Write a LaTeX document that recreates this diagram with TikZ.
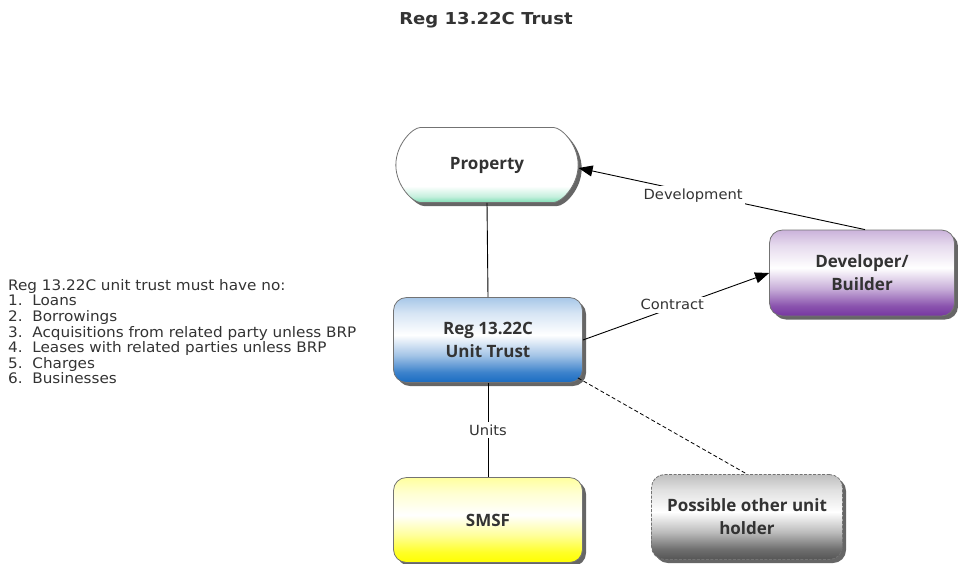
\documentclass[tikz,border=0pt]{standalone}
\usepackage{fontspec}
\setmainfont[FakeStretch=1.05]{DejaVu Sans}
\newfontfamily\boxfont{Open Sans}
\newfontfamily\titlefont[FakeStretch=1.1]{DejaVu Sans}
\usetikzlibrary{shadows,shapes.misc,arrows.meta}
\definecolor{txt}{HTML}{333333}
\definecolor{trustblue}{HTML}{1A6CC2}
\definecolor{devpurple}{HTML}{7636A0}
\definecolor{smsfyellow}{HTML}{FFFF00}
\definecolor{othergrey}{HTML}{555555}
\definecolor{propgreen}{HTML}{7EDDB4}
% glossy vertical fills: strong colour at the bottom edge, white core, pale top
\newcommand\glossshade[2]{%
  \pgfdeclareverticalshading{#1}{100bp}{color(0bp)=(#2); color(25bp)=(#2);
    color(31bp)=(#2!85); color(41bp)=(#2!40); color(53bp)=(white);
    color(66bp)=(#2!18); color(75bp)=(#2!38); color(100bp)=(#2!38)}}
\glossshade{trustshade}{trustblue}
\glossshade{devshade}{devpurple}
\glossshade{smsfshade}{smsfyellow}
\glossshade{othershade}{othergrey}
\pgfdeclareverticalshading{propshade}{100bp}{color(0bp)=(propgreen);
  color(25bp)=(propgreen); color(29bp)=(propgreen!45); color(36bp)=(white);
  color(100bp)=(white)}
\tikzset{
  every node/.style={text=txt},
  boxbase/.style={rounded corners=13pt, minimum width=189pt, minimum height=85pt,
    draw=black!55, line width=0.8pt, align=center,
    font=\boxfont\bfseries\fontsize{17}{23}\selectfont,
    drop shadow={shadow xshift=3.5pt, shadow yshift=-3.5pt, fill=black!75, opacity=0.8}},
  lbl/.style={fill=white, inner sep=2.5pt, font=\fontsize{14}{16}\selectfont},
  conn/.style={line width=0.9pt, black},
  tip/.style={-{Triangle[length=14pt,width=11pt]}},
}
\begin{document}
\begin{tikzpicture}[x=1pt,y=-1pt]
\useasboundingbox (0,0) rectangle (958,563);
% title
\node[font=\titlefont\bfseries\fontsize{16.4}{19}\selectfont] (title) at (486,20) {Reg 13.22C Trust};
% rules for the unit trust
\node[anchor=north west, align=left, font=\fontsize{14.5}{15.6}\selectfont, inner sep=0pt] (rules) at (8,279)
 {Reg 13.22C unit trust must have no:\\
  1.\ \ Loans\\
  2.\ \ Borrowings\\
  3.\ \ Acquisitions from related party unless BRP\\
  4.\ \ Leases with related parties unless BRP\\
  5.\ \ Charges\\
  6.\ \ Businesses};
% boxes
\node[boxbase, rounded rectangle, minimum height=75pt, shading=propshade] (prop) at (487,165) {Property};
\node[boxbase, shading=trustshade] (trust) at (488,340) {Reg 13.22C\\Unit Trust};
\node[boxbase, minimum width=185pt, minimum height=86pt, shading=devshade] (dev) at (862,273) {Developer/\\Builder};
\node[boxbase, shading=smsfshade] (smsf) at (488,520) {SMSF};
\node[boxbase, dash pattern=on 3pt off 1.5pt, minimum width=191pt, shading=othershade] (other) at (747,517) {Possible other unit\\holder};
% connectors
\draw[conn] (prop.south) -- (trust.north);
\draw[conn] (trust.south) -- node[lbl] (units) {Units} (smsf.north);
\draw[conn, tip] ([xshift=3pt]dev.north) -- node[lbl, pos=0.6, yshift=-3pt] (devl) {Development} ([yshift=-3pt]prop.east);
\draw[conn, tip] (trust.east) -- node[lbl, pos=0.48, yshift=3pt] (contr) {Contract} (dev.west);
\draw[conn, dash pattern=on 4pt off 2.5pt, line width=0.8pt] ([xshift=-5pt,yshift=5pt]trust.south east) -- (other.north);
\end{tikzpicture}
\end{document}
